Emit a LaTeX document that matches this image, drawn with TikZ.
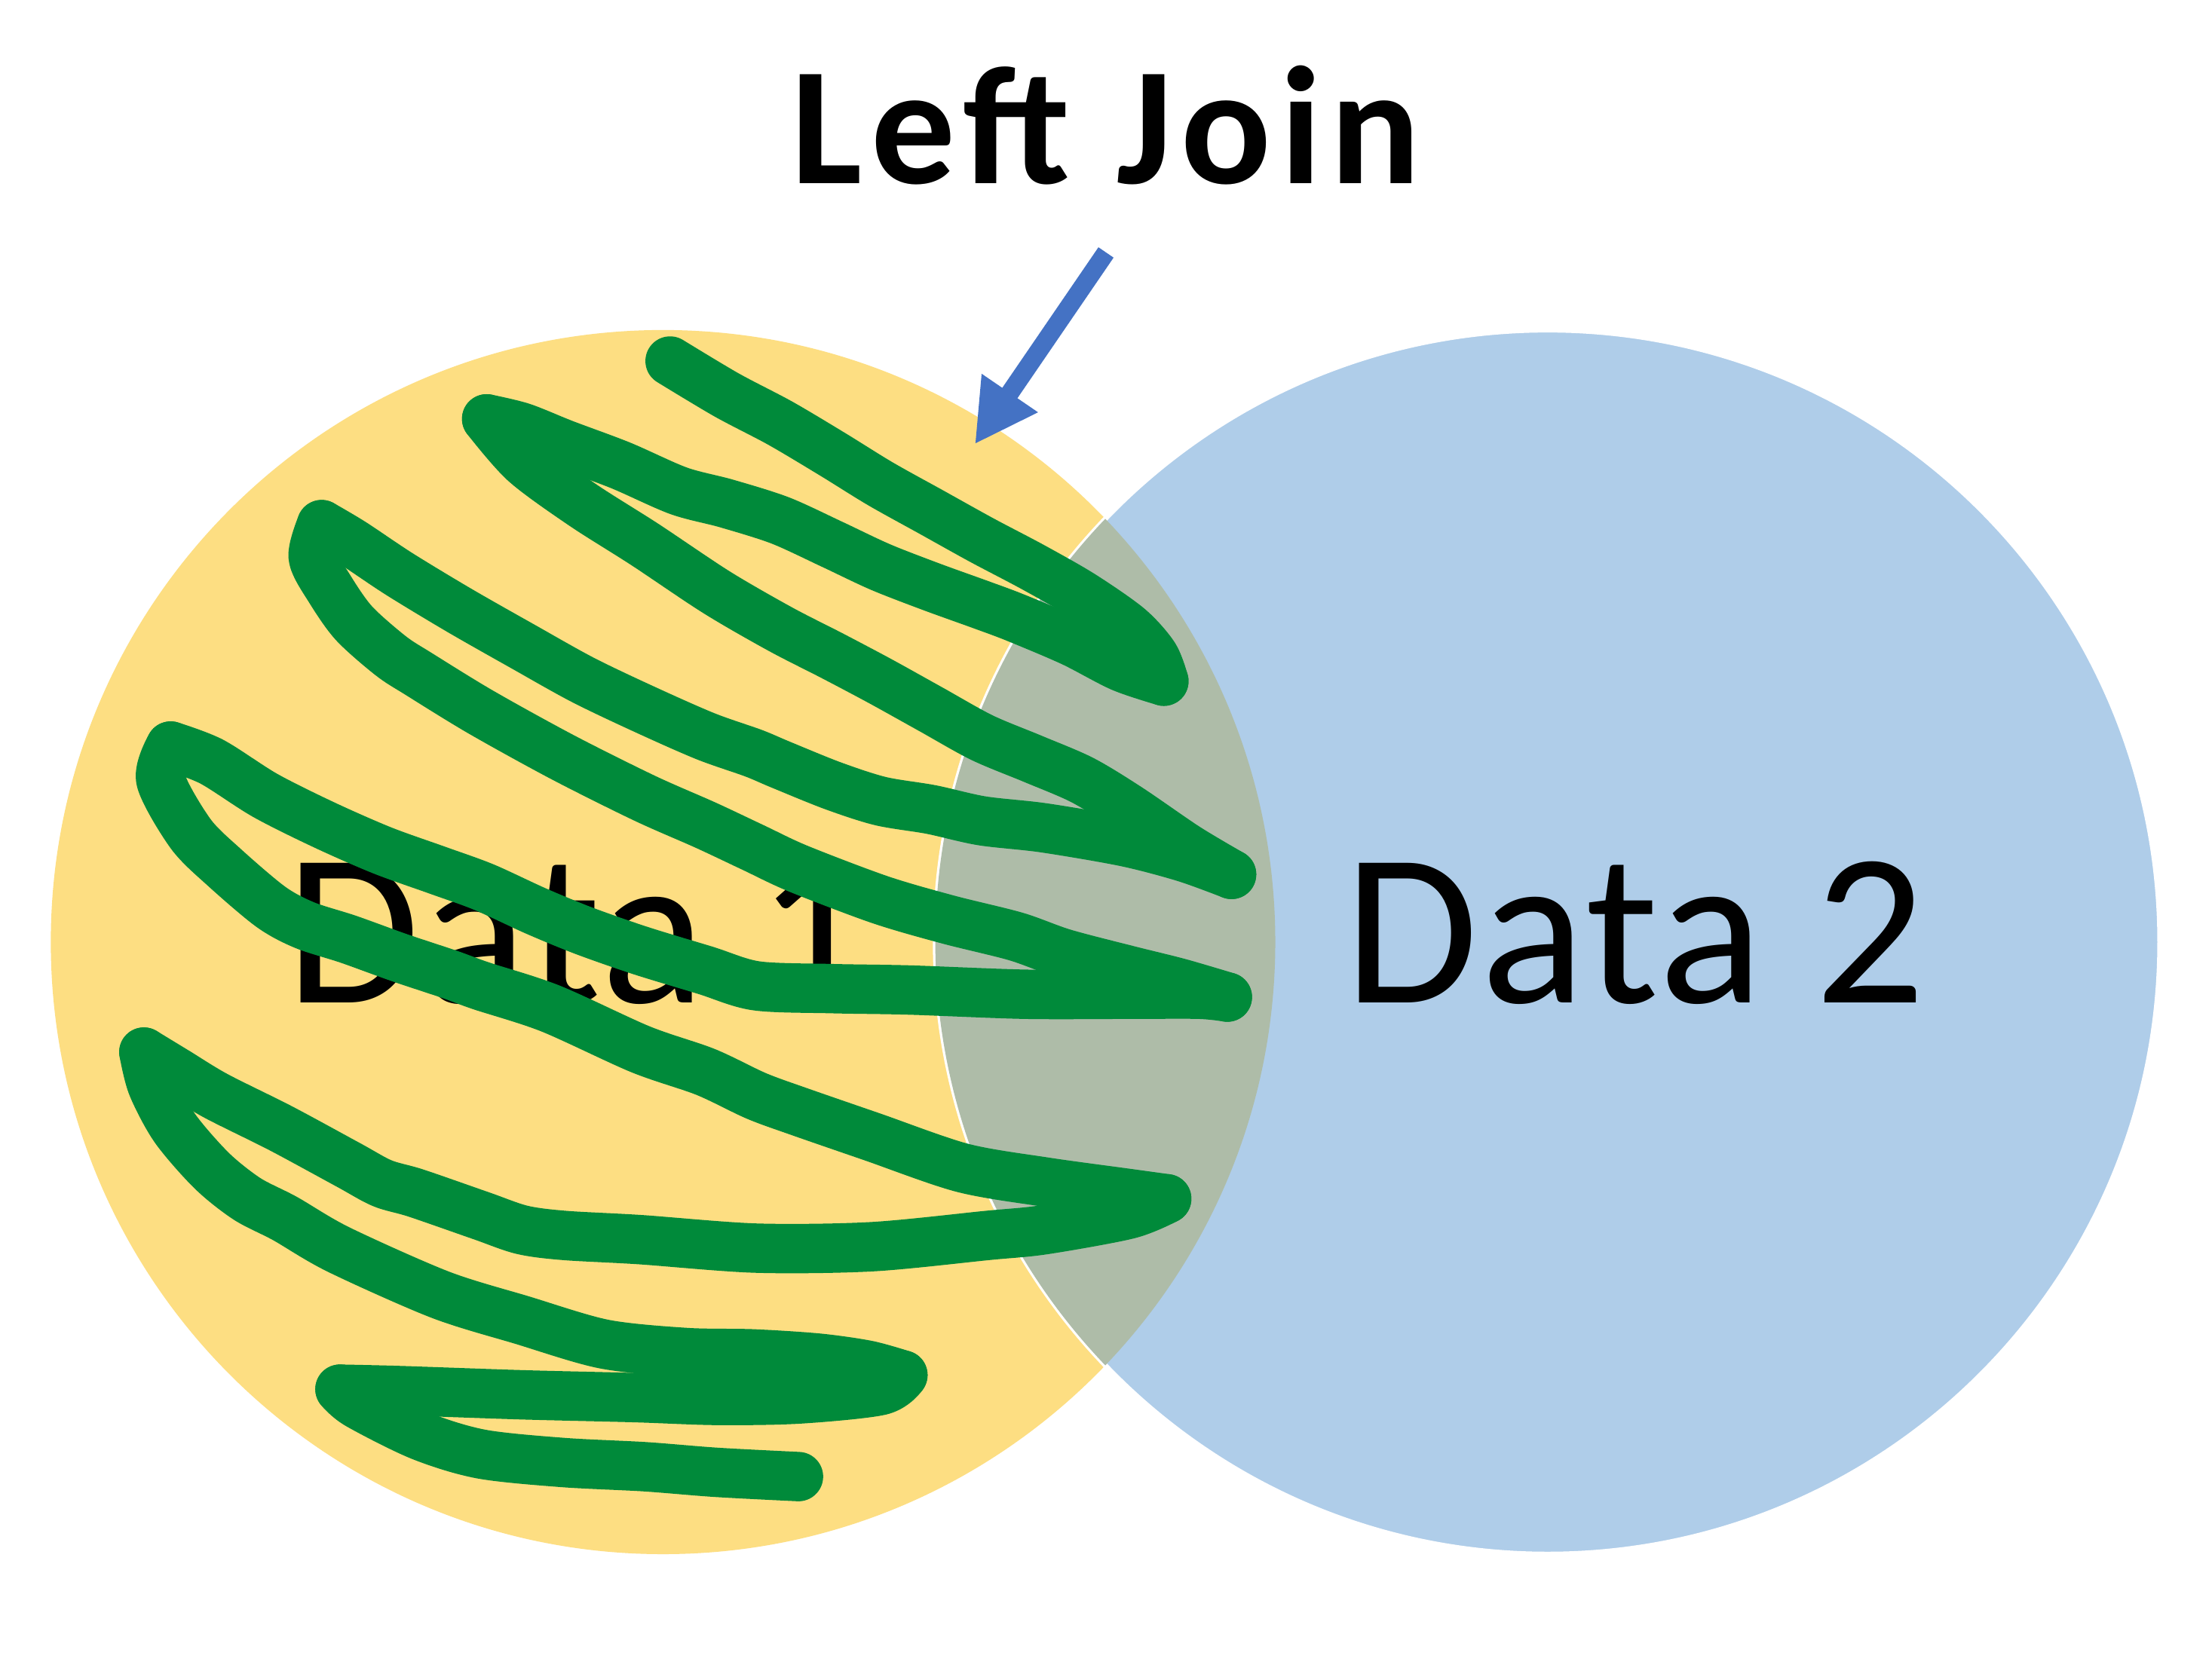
\documentclass[tikz,border=0pt]{standalone}
\usepackage{fontspec}
\setmainfont{Carlito}
\usetikzlibrary{arrows.meta}
\definecolor{vyellow}{RGB}{253,222,130}
\definecolor{vblue}{RGB}{175,205,233}
\definecolor{vlens}{RGB}{174,188,168}
\definecolor{scribgreen}{RGB}{0,138,58}
\definecolor{arrowblue}{RGB}{68,114,196}
\begin{document}
\begin{tikzpicture}[x=0.1mm,y=-0.1mm,
  scrib/.style={draw=scribgreen,line width=3.5mm,line cap=round,line join=round},
  lbl/.style={inner sep=0pt,anchor=base,text=black},
  datafont/.style={font=\fontsize{43.9}{50}\selectfont\addfontfeature{LetterSpace=1.3}},
  titlefont/.style={font=\bfseries\fontsize{33.9}{40}\selectfont\addfontfeature{LetterSpace=5.2}},
  pointer/.style={draw=arrowblue,line width=1.3mm,-{Triangle[length=4.4mm,width=4.5mm]}}]
\useasboundingbox (0,0) rectangle (1568,1191);
\fill[white] (0,0) rectangle (1568,1191);
\coordinate (c1) at (470,668);
\coordinate (c2) at (1097,668);
% circles
\fill[vyellow] (c1) circle[radius=43.4mm];
\fill[vblue] (c2) circle[radius=43.4mm];
\draw[white,line width=0.35mm] (c2) circle[radius=43.4mm];
\begin{scope}
  \clip (c1) circle[radius=43.4mm];
  \fill[vlens] (c2) circle[radius=43.4mm];
\end{scope}
% labels
\node[lbl,datafont] (d1) at (409,711) {Data 1};
\node[lbl,datafont] (d2) at (1159,711) {Data 2};
% scribble, stroke by stroke
\draw[scrib] plot[smooth,tension=0.5] coordinates {(475,256) (515,280) (553,300) (590,322) (624,343) (660,363) (696,383) (732,402) (767,422) (800,445) (818,465) (825,483)};
\draw[scrib] plot[smooth,tension=0.5] coordinates {(825,483) (795,473) (760,455) (720,438) (696,429) (660,416) (624,402) (590,386) (553,369) (515,357) (481,348) (440,330) (400,315) (370,303) (345,297)};
\draw[scrib] plot[smooth,tension=0.5] coordinates {(345,297) (372,328) (413,358) (457,386) (508,420) (553,446) (590,465) (624,483) (660,503) (696,523) (732,538) (767,553) (800,573) (841,601) (873,620)};
\draw[scrib] plot[smooth,tension=0.5] coordinates {(873,620) (840,608) (798,597) (740,587) (696,582) (660,574) (624,568) (590,557) (553,542) (534,534) (500,522) (457,503) (413,482) (370,458) (326,433) (283,407) (250,385) (228,372)};
\draw[scrib] plot[smooth,tension=0.5] coordinates {(228,372) (222,395) (234,418) (251,442) (277,465) (297,478) (341,505) (399,537) (457,566) (500,585) (534,601) (566,616) (624,638) (672,652) (720,664) (754,676) (800,688) (836,697) (870,707)};
\draw[scrib] plot[smooth,tension=0.5] coordinates {(870,707) (850,705) (800,705) (727,705) (645,702) (590,701) (536,699) (500,688) (454,674) (414,660) (380,646) (343,629) (310,617) (271,603) (230,585) (188,564) (150,540) (121,529)};
\draw[scrib] plot[smooth,tension=0.5] coordinates {(121,529) (114,553) (135,591) (159,615) (192,643) (216,656) (247,666) (283,679) (319,691) (341,699) (390,715) (454,744) (500,760) (536,777) (566,788) (618,806) (682,828) (740,838) (798,846) (827,850)};
\draw[scrib] plot[smooth,tension=0.5] coordinates {(827,850) (800,861) (740,872) (700,876) (618,884) (536,885) (454,879) (400,876) (370,872) (341,862) (295,846) (271,839) (247,826) (199,800) (153,777) (125,760) (102,746)};
\draw[scrib] plot[smooth,tension=0.5] coordinates {(102,746) (108,770) (124,800) (150,830) (175,850) (202,864) (240,886) (312,918) (370,936) (428,953) (486,959) (534,960) (580,963) (615,968) (640,975)};
\draw[scrib] plot[smooth,tension=0.5] coordinates {(640,975) (624,986) (566,992) (508,993) (450,991) (370,989) (283,986) (241,985)};
\draw[scrib] plot[smooth,tension=0.5] coordinates {(241,985) (254,996) (298,1018) (341,1031) (399,1037) (457,1040) (508,1044) (566,1047)};
% title and arrow
\node[lbl,titlefont] (title) at (784,130) {Left Join};
\coordinate (arrStart) at (784,179);
\coordinate (arrTip) at (691,315);
\draw[pointer] (arrStart) -- (arrTip);
\end{tikzpicture}
\end{document}
